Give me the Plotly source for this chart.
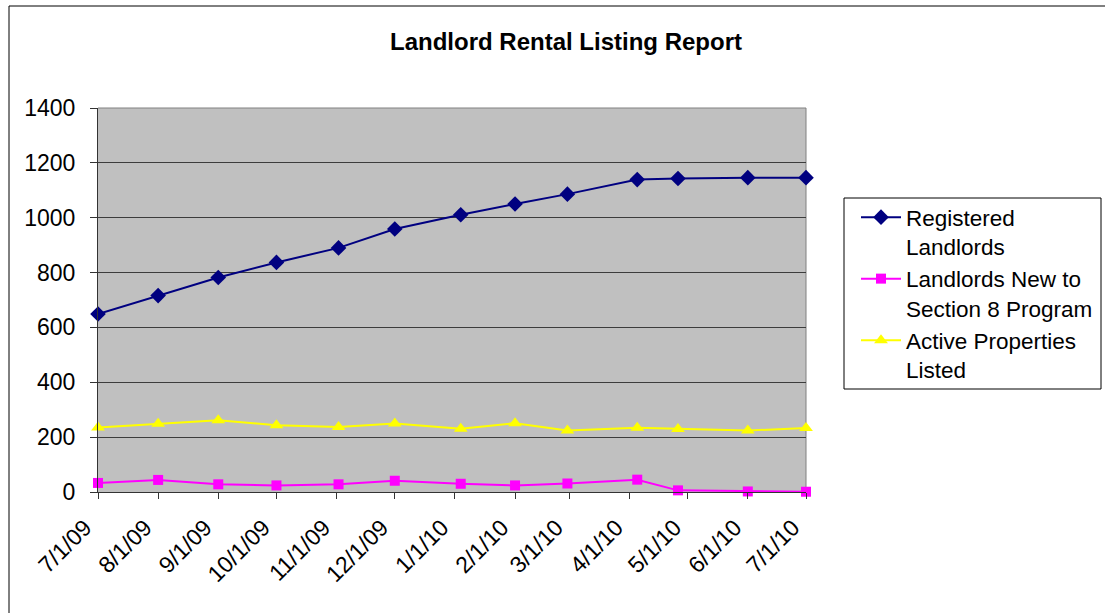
import plotly.graph_objects as go

# ---- data ----
dates = ["2009-07-01", "2009-08-01", "2009-09-01", "2009-10-01", "2009-11-02",
         "2009-12-01", "2010-01-04", "2010-02-01", "2010-02-28", "2010-04-05",
         "2010-04-26", "2010-06-01", "2010-07-01"]
registered_landlords = [649, 716, 782, 837, 890, 959, 1011, 1050, 1086, 1139, 1143, 1146, 1146]
new_to_section8 = [33, 44, 28, 24, 28, 41, 30, 24, 31, 45, 6, 2, 1]
active_properties = [235, 249, 262, 243, 237, 250, 231, 251, 224, 234, 230, 224, 233]

tick_dates = ["2009-07-01", "2009-08-01", "2009-09-01", "2009-10-01", "2009-11-01",
              "2009-12-01", "2010-01-01", "2010-02-01", "2010-03-01", "2010-04-01",
              "2010-05-01", "2010-06-01", "2010-07-01"]
tick_labels = ["7/1/09", "8/1/09", "9/1/09", "10/1/09", "11/1/09", "12/1/09", "1/1/10",
               "2/1/10", "3/1/10", "4/1/10", "5/1/10", "6/1/10", "7/1/10"]
y_ticks = [0, 200, 400, 600, 800, 1000, 1200, 1400]

FONT = "Arial, Liberation Sans, sans-serif"
W, H = 1105, 613
L, R, T, B = 98, 806, 108, 492
pw, ph = R - L, B - T

fig = go.Figure()
fig.add_trace(go.Scatter(
    x=dates, y=registered_landlords, mode="lines+markers",
    name="Registered<br>Landlords",
    line=dict(color="#000080", width=2),
    marker=dict(symbol="diamond", size=12, color="#000080"),
    cliponaxis=False))
fig.add_trace(go.Scatter(
    x=dates, y=new_to_section8, mode="lines+markers",
    name="Landlords New to<br>Section 8 Program",
    line=dict(color="#FF00FF", width=2),
    marker=dict(symbol="square", size=10, color="#FF00FF"),
    cliponaxis=False))
fig.add_trace(go.Scatter(
    x=dates, y=active_properties, mode="lines+markers",
    name="Active Properties<br>Listed",
    line=dict(color="#FFFF00", width=2),
    marker=dict(symbol="triangle-up", size=12, color="#FFFF00"),
    cliponaxis=False))

def px_x(p):
    return (p - L) / pw

def px_y(p):
    return (B - p) / ph

fig.update_layout(
    width=W, height=H,
    margin=dict(l=L, r=W - R, t=T, b=H - B, pad=0, autoexpand=False),
    paper_bgcolor="white",
    plot_bgcolor="#C0C0C0",
    font=dict(family=FONT, size=23, color="black"),
    title=dict(text="<b>Landlord Rental Listing Report</b>",
               font=dict(family=FONT, size=24, color="black"),
               xref="container", yref="container",
               x=566 / W, y=1 - 42 / H, xanchor="center", yanchor="middle"),
    showlegend=True,
    legend=dict(x=px_x(856), y=px_y(196), xanchor="left", yanchor="top",
                bgcolor="rgba(0,0,0,0)", borderwidth=0,
                font=dict(family=FONT, size=22.5, color="black"),
                itemwidth=40, valign="top", tracegroupgap=0),
    xaxis=dict(type="date",
               range=["2009-07-01", "2010-07-01"],
               tickvals=tick_dates, ticktext=tick_labels,
               tickangle=-45, ticks="outside", ticklen=6, tickcolor="#333333",
               showgrid=False, zeroline=False, automargin=False,
               showline=True, linecolor="#333333", linewidth=1,
               ticklabelstandoff=6, ticklabelshift=-13,
               tickfont=dict(family=FONT, size=23, color="black")),
    yaxis=dict(range=[0, 1400], tickvals=y_ticks,
               ticks="outside", ticklen=7, tickcolor="#333333",
               showgrid=True, gridcolor="#3c3c3c", gridwidth=1,
               zeroline=False, automargin=False,
               showline=True, linecolor="#333333", linewidth=1,
               ticklabelstandoff=10,
               tickfont=dict(family=FONT, size=23, color="black")),
    shapes=[
        # outer chart border
        dict(type="rect", xref="paper", yref="paper",
             x0=px_x(9), x1=px_x(W + 20), y0=px_y(H + 20), y1=px_y(6),
             line=dict(color="black", width=1), fillcolor="rgba(0,0,0,0)", layer="below"),
        # legend box
        dict(type="rect", xref="paper", yref="paper",
             x0=px_x(844), x1=px_x(1101), y0=px_y(389), y1=px_y(198),
             line=dict(color="black", width=1), fillcolor="white", layer="below"),
        # plot area border (top/right gray)
        dict(type="line", xref="paper", yref="paper", x0=0, x1=1, y0=1, y1=1,
             line=dict(color="#808080", width=1), layer="below"),
        dict(type="line", xref="paper", yref="paper", x0=1, x1=1, y0=0, y1=1,
             line=dict(color="#808080", width=1), layer="below"),
    ],
)

fig.write_html("out.html", config={"displayModeBar": False},
               post_script="document.body.style.margin='0';document.body.style.overflow='hidden';")
